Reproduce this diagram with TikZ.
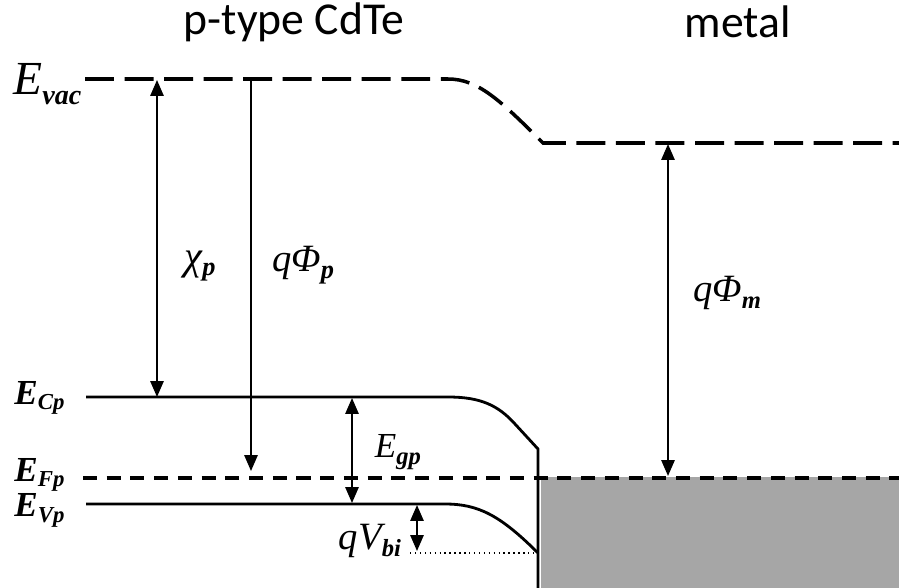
\documentclass[tikz,border=0pt]{standalone}
\usepackage{fontspec}
\setmainfont{Liberation Serif}
\newfontfamily\titlefont{Carlito}
\usetikzlibrary{arrows.meta}
\newcommand\Elbl[5]{{\fontsize{#1}{#1}\selectfont\itshape #4}{\fontsize{#2}{#2}\selectfont\bfseries\itshape\raisebox{-#5}{#3}}}
\newcommand\EBlbl[5]{{\fontsize{#1}{#1}\selectfont\bfseries\itshape #4}{\fontsize{#2}{#2}\selectfont\bfseries\itshape\raisebox{-#5}{#3}}}
\begin{document}
\begin{tikzpicture}[x=0.02cm,y=-0.02cm,
  band/.style={line width=1.6pt},
  vacdash/.style={line width=2pt,dash pattern=on 16.5pt off 6pt},
  fermidash/.style={line width=2pt,dash pattern=on 8pt off 5.5pt},
  dbl/.style={line width=1.1pt,{Triangle[length=9pt,width=7.5pt]}-{Triangle[length=9pt,width=7.5pt]}},
  sgl/.style={line width=1.1pt,-{Triangle[length=9pt,width=7.5pt]}},
  ttl/.style={font=\titlefont\fontsize{26}{26}\selectfont,inner sep=0pt},
  lbl/.style={inner sep=0pt}]
\useasboundingbox (0,0) rectangle (899,588);
% metal fill
\fill[fill={rgb,255:red,166;green,166;blue,166}] (541,477) rectangle (899,588);
% titles
\node[ttl] (t1) at (294,22) {p-type CdTe};
\node[ttl] (t2) at (738,22) {metal};
% coordinates
\coordinate (vacL) at (85,79);
\coordinate (vacB) at (448,79);
\coordinate (vacK) at (543,143);
\coordinate (vacR) at (899,143);
\coordinate (cL) at (86,397);
\coordinate (cB) at (448,397);
\coordinate (cK) at (538,449);
\coordinate (cBot) at (538,588);
\coordinate (vL) at (86,504);
\coordinate (vB) at (445,504);
\coordinate (vK) at (538,553);
\coordinate (fL) at (83,478);
\coordinate (fR) at (899,478);
\coordinate (dotL) at (410,553);
% vacuum level
\draw[vacdash] (vacL) -- (vacB) .. controls (478,79) and (500,100) .. (vacK) -- (vacR);
% conduction band
\draw[band] (cL) -- (cB) .. controls (480,397) and (498,405) .. (515,424) -- (cK) -- (cBot);
% valence band
\draw[band] (vL) -- (vB) .. controls (478,504) and (500,515) .. (vK);
% fermi level
\draw[fermidash] (fL) -- (fR);
% dotted
\draw[line width=0.8pt,dotted] (dotL) -- (vK);
% arrows
\draw[dbl] (157,80) -- (157,397);
\draw[sgl] (251,80) -- (251,471);
\draw[dbl] (352,398) -- (352,503);
\draw[dbl] (417,505) -- (417,551);
\draw[dbl] (668,144) -- (668,476);
% labels left
\node[lbl,anchor=base west] (evac) at (13,94) {\Elbl{27}{16}{vac}{E}{6pt}};
\node[lbl,anchor=base west] (ecp) at (14,404) {\EBlbl{20}{13}{Cp}{E}{3pt}};
\node[lbl,anchor=base west] (efp) at (14,481) {\EBlbl{20}{13}{Fp}{E}{3pt}};
\node[lbl,anchor=base west] (evp) at (14,516) {\EBlbl{20}{13}{Vp}{E}{3.5pt}};
% arrow labels
\node[lbl] (chi) at (200,266) {{\fontsize{23}{23}\selectfont\itshape χ}{\fontsize{15}{15}\selectfont\bfseries\itshape\raisebox{-3pt}{p}}};
\node[lbl] (phip) at (303,265) {\Elbl{22}{15}{p}{qΦ}{4pt}};
\node[lbl] (phim) at (727,293) {\Elbl{22}{14}{m}{qΦ}{4pt}};
\node[lbl] (egp) at (398,452) {\Elbl{20}{14}{gp}{E}{4pt}};
\node[lbl] (vbi) at (370,541) {\Elbl{22}{14}{bi}{qV}{4pt}};
\end{tikzpicture}
\end{document}
